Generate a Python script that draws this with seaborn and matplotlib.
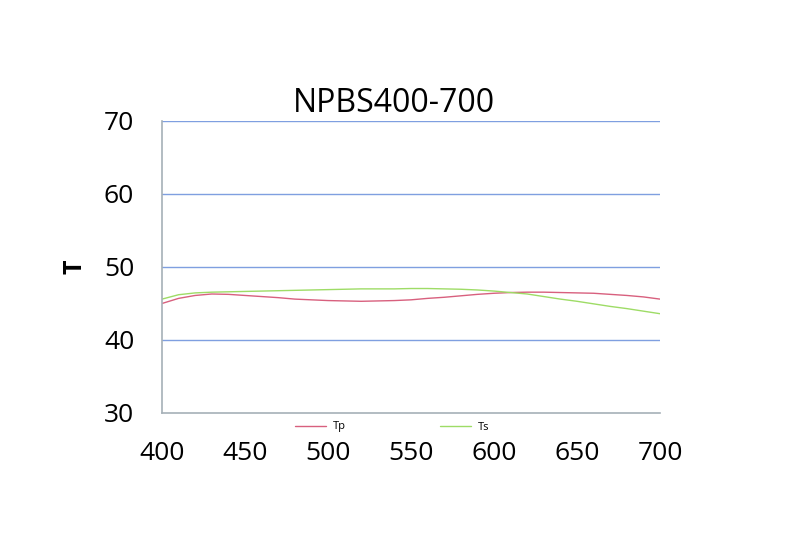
import matplotlib
matplotlib.use("Agg")
import matplotlib.pyplot as plt
import seaborn as sns
import pandas as pd
from matplotlib.lines import Line2D

wavelength = list(range(400, 701, 10))
tp = [45.0, 45.7, 46.1, 46.3, 46.25, 46.1, 45.95, 45.8, 45.6, 45.5, 45.4,
      45.35, 45.3, 45.35, 45.4, 45.5, 45.7, 45.85, 46.05, 46.25, 46.4,
      46.5, 46.55, 46.55, 46.5, 46.45, 46.4, 46.25, 46.1, 45.9, 45.6]
ts = [45.6, 46.2, 46.45, 46.55, 46.6, 46.65, 46.7, 46.75, 46.8, 46.85, 46.9,
      46.95, 47.0, 47.0, 47.0, 47.05, 47.05, 47.0, 46.95, 46.85, 46.7,
      46.5, 46.3, 45.95, 45.6, 45.3, 44.95, 44.6, 44.3, 43.95, 43.6]
series_names = ["Tp", "Ts"]
colors = {"Tp": "#D8607E", "Ts": "#9EDC66"}
y_ticks = [30, 40, 50, 60, 70]
x_ticks = [400, 450, 500, 550, 600, 650, 700]
title = "NPBS400-700"
ylabel = "T"

df = pd.DataFrame({"wavelength": wavelength * 2,
                   "T": tp + ts,
                   "series": ["Tp"] * len(tp) + ["Ts"] * len(ts)})

sns.set_style("white")
plt.rcParams["font.family"] = ["Open Sans", "DejaVu Sans"]
plt.rcParams["text.color"] = "black"
plt.rcParams["xtick.color"] = "black"
plt.rcParams["ytick.color"] = "black"
plt.rcParams["axes.labelcolor"] = "black"

fig = plt.figure(figsize=(8, 5.6), dpi=100)
ax = fig.add_axes([0.2025, 0.2625, 0.6225, 0.5215])

for y in y_ticks[1:]:
    ax.axhline(y, color="#7F9FE0", lw=1.0, zorder=0)

sns.lineplot(data=df, x="wavelength", y="T", hue="series", hue_order=series_names,
             palette=colors, ax=ax, lw=1.0, legend=False)

ax.set_xlim(400, 700)
ax.set_ylim(30, 70)
ax.set_xticks(x_ticks)
ax.set_yticks(y_ticks)
ax.tick_params(axis="both", length=0, labelsize=19)
ax.tick_params(axis="x", pad=20)
ax.tick_params(axis="y", pad=20)
for s in ["top", "right"]:
    ax.spines[s].set_visible(False)
for s in ["left", "bottom"]:
    ax.spines[s].set_color("#A6B0B8")
    ax.spines[s].set_linewidth(1.2)
ax.set_xlabel("")
ax.set_ylabel(ylabel, fontsize=18, fontweight="bold", labelpad=12)
fig.text(0.4925, 0.815, title, ha="center", va="center", fontsize=23)

handles = [Line2D([], [], color=colors[n], lw=1.0) for n in series_names]
fig.legend(handles, series_names, loc="center", bbox_to_anchor=(0.49, 0.2375),
           ncol=2, frameon=False, fontsize=8, handlelength=2.8,
           columnspacing=8.5, handletextpad=0.6)

fig.savefig("out.png", dpi=100)
